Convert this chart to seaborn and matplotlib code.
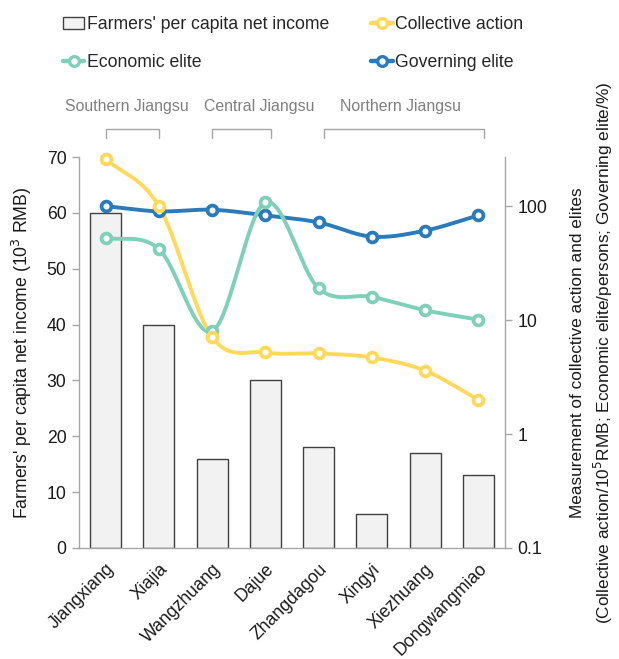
import numpy as np
import pandas as pd
import matplotlib
matplotlib.use("Agg")
import matplotlib.pyplot as plt
import matplotlib.transforms as mtrans
from matplotlib.lines import Line2D
from matplotlib.patches import Patch
import seaborn as sns

# ---------------- data ----------------
villages = ["Jiangxiang", "Xiajia", "Wangzhuang", "Dajue",
            "Zhangdagou", "Xingyi", "Xiezhuang", "Dongwangmiao"]
income = [60, 40, 16, 30, 18, 6, 17, 13]                    # 10^3 RMB
collective = [260, 100, 7.1, 5.2, 5.1, 4.7, 3.6, 2.0]       # per 10^5 RMB
economic = [53, 42, 8.0, 108, 19, 16, 12.2, 10.1]           # persons
governing = [100, 90, 93, 83, 72, 54, 61, 83]               # %
regions = ["Southern Jiangsu", "Central Jiangsu", "Northern Jiangsu"]
region_spans = [(0, 1), (2, 3.1), (4.1, 7.1)]
region_label_x = [0.40, 2.88, 5.54]

# ---------------- style ----------------
sns.set_theme(style="white")
plt.rcParams['font.family'] = ['Liberation Sans', 'DejaVu Sans']
FS = 12.7
GRAY = "#A6A6A6"
TXT = "#1A1A1A"
C_COLL = "#FFD95A"
C_ECON = "#7ED0B8"
C_GOV = "#2B7BBA"

fig = plt.figure(figsize=(6.19, 6.59), dpi=100)
L, R, B, T = 79 / 619, 505 / 619, 1 - 548 / 659, 1 - 157 / 659
ax = fig.add_axes([L, B, R - L, T - B])

df = pd.DataFrame({"village": villages, "income": income})
sns.barplot(data=df, x="village", y="income", color="#F2F2F2",
            saturation=1, edgecolor="#404040", linewidth=1.0,
            width=0.58, ax=ax)
ax.set_xlim(-0.5, 7.5)
ax.set_ylim(0, 70)
ax.set_yticks(range(0, 71, 10))
ax.set_xlabel("")
ax.set_ylabel("Farmers' per capita net income (10$^3$ RMB)", fontsize=FS,
              labelpad=9, color=TXT)
ax.set_xticks(range(len(villages)))
ax.set_xticklabels(villages, rotation=45, ha="right",
                   rotation_mode="anchor", fontsize=FS, color=TXT)
ax.set_xticks(np.arange(-0.5, 8, 1), minor=True)
ax.tick_params(axis="x", which="major", length=0, pad=9)
ax.tick_params(axis="x", which="minor", length=5, color=GRAY, width=1)
ax.tick_params(axis="y", length=5, color=GRAY, width=1, labelsize=FS,
               left=True, pad=4, labelcolor=TXT)
for s in ["top", "right"]:
    ax.spines[s].set_visible(False)
for s in ["left", "bottom"]:
    ax.spines[s].set_color(GRAY)
    ax.spines[s].set_linewidth(1)

# ---------------- secondary log axis ----------------
ax2 = ax.twinx()
ax2.set_yscale("log")
ax2.set_ylim(0.1, 270)
ax2.set_yticks([0.1, 1, 10, 100])
ax2.set_yticklabels(["0.1", "1", "10", "100"])
ax2.yaxis.set_minor_locator(matplotlib.ticker.NullLocator())
ax2.tick_params(axis="y", length=5, color=GRAY, width=1, labelsize=FS,
                right=True, pad=4, labelcolor=TXT)
for s in ["top", "left", "bottom"]:
    ax2.spines[s].set_visible(False)
ax2.spines["right"].set_color(GRAY)
ax2.spines["right"].set_linewidth(1)
ax2.set_ylabel("Measurement of collective action and elites\n"
               "(Collective action/10$^5$RMB; Economic elite/persons; Governing elite/%)",
               fontsize=12.4, labelpad=16, linespacing=1.4, color=TXT)


def smooth(xs, ys, n=30):
    """Catmull-Rom curve through the points, in display-like space."""
    px = np.asarray(xs, float) * 53.3
    py = np.log10(np.asarray(ys, float)) * 113.9
    P = np.column_stack([px, py])
    P = np.vstack([P[0] - (P[1] - P[0]), P, P[-1] + (P[-1] - P[-2])])
    out = []
    for i in range(1, len(P) - 2):
        p0, p1, p2, p3 = P[i - 1], P[i], P[i + 1], P[i + 2]
        t = np.linspace(0, 1, n)[:, None]
        seg = 0.5 * ((2 * p1) + (-p0 + p2) * t +
                     (2 * p0 - 5 * p1 + 4 * p2 - p3) * t ** 2 +
                     (-p0 + 3 * p1 - 3 * p2 + p3) * t ** 3)
        out.append(seg if i == 1 else seg[1:])
    out = np.vstack(out)
    return out[:, 0] / 53.3, 10 ** (out[:, 1] / 113.9)


xs = np.arange(len(villages))
for vals, col in [(governing, C_GOV), (economic, C_ECON), (collective, C_COLL)]:
    sx, sy = smooth(xs, vals)
    ax2.plot(sx, sy, color=col, lw=2.8, solid_capstyle="round", zorder=3,
             clip_on=False)
    sns.scatterplot(x=xs, y=vals, ax=ax2, marker="o", s=50,
                    facecolor="white", edgecolor=col, linewidth=2.7,
                    zorder=4, legend=False, clip_on=False)
ax2.set_xlim(-0.5, 7.5)
ax2.set_ylim(0.1, 270)

# ---------------- region brackets ----------------
trans = mtrans.blended_transform_factory(ax.transData, ax.transAxes)
for name, (x0, x1), lx in zip(regions, region_spans, region_label_x):
    ax.plot([x0, x0, x1, x1], [1.049, 1.072, 1.072, 1.049], transform=trans,
            clip_on=False, color=GRAY, lw=1)
    ax.text(lx, 1.128, name, transform=trans, ha="center", va="center",
            fontsize=11.4, color="#808080")

# ---------------- legend ----------------
def lh(c):
    return Line2D([], [], color=c, lw=3.2, marker="o", markersize=7,
                  markerfacecolor="white", markeredgecolor=c,
                  markeredgewidth=2.4)

handles = [Patch(facecolor="#F2F2F2", edgecolor="#404040", lw=1),
           lh(C_ECON), lh(C_COLL), lh(C_GOV)]
labels = ["Farmers' per capita net income", "Economic elite",
          "Collective action", "Governing elite"]
fig.legend(handles, labels, loc="upper left",
           bbox_to_anchor=(56 / 619, 1 - 9 / 659), ncol=2, frameon=False,
           fontsize=FS, handlelength=1.2, handletextpad=0.15,
           columnspacing=2.4, labelspacing=1.2, borderaxespad=0)

fig.savefig("out.png", dpi=100)
